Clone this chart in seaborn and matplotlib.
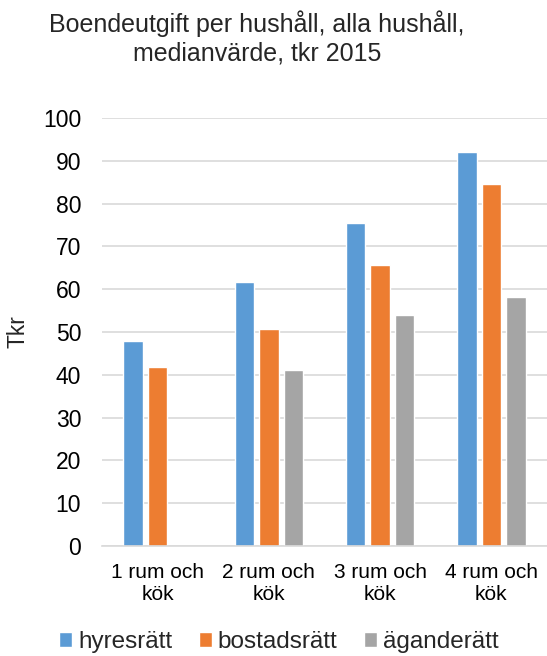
import matplotlib
matplotlib.use("Agg")
import matplotlib.pyplot as plt
import numpy as np
import pandas as pd
import seaborn as sns

# Data (tkr)
categories = ["1 rum och\nkök", "2 rum och\nkök", "3 rum och\nkök", "4 rum och\nkök"]
hyresratt = [47.9, 61.7, 75.5, 92.1]
bostadsratt = [41.9, 50.8, 65.7, 84.7]
aganderatt = [np.nan, 41.2, 54.0, 58.3]
series_names = ["hyresrätt", "bostadsrätt", "äganderätt"]
colors = ["#5B9BD5", "#ED7D31", "#A5A5A5"]

df = pd.DataFrame({
    "kategori": categories * 3,
    "serie": np.repeat(series_names, len(categories)),
    "varde": hyresratt + bostadsratt + aganderatt,
})

sns.set_style("white")
plt.rcParams["font.family"] = ["Liberation Sans", "DejaVu Sans"]

fig = plt.figure(figsize=(5.47, 6.56), dpi=100)
ax = fig.add_axes([0.1865, 0.1677, 0.8135, 0.6523])

sns.barplot(
    data=df, x="kategori", y="varde", hue="serie",
    palette=colors, order=categories, hue_order=series_names,
    width=0.66, gap=0.21, errorbar=None, saturation=1, ax=ax,
)

ax.set_ylim(0, 100)
ax.set_yticks(range(0, 101, 10))
ax.yaxis.grid(True, color="#D9D9D9", linewidth=1.2)
ax.set_axisbelow(True)
for side in ["top", "right", "left"]:
    ax.spines[side].set_visible(False)
ax.spines["bottom"].set_color("#D9D9D9")
ax.spines["bottom"].set_linewidth(1.2)
ax.tick_params(axis="both", length=0, colors="#000000")
ax.tick_params(axis="y", pad=15, labelsize=16.5)
ax.tick_params(axis="x", pad=12, labelsize=15)
for lbl in ax.get_xticklabels():
    lbl.set_linespacing(1.25)
ax.set_xlabel("")
ax.set_ylabel("Tkr", fontsize=16.5, labelpad=10)

fig.text(0.47, 0.985, "Boendeutgift per hushåll, alla hushåll,\nmedianvärde, tkr 2015",
         ha="center", va="top", fontsize=18, linespacing=1.25)

sns.move_legend(
    ax, "center", bbox_to_anchor=(0.51, 0.021),
    bbox_transform=fig.transFigure, ncol=3, frameon=False, title=None,
    fontsize=17.5, handlelength=0.53, handleheight=0.53, handletextpad=0.25,
    columnspacing=1.1, borderpad=0.1,
)

fig.savefig("out.png", dpi=100)
